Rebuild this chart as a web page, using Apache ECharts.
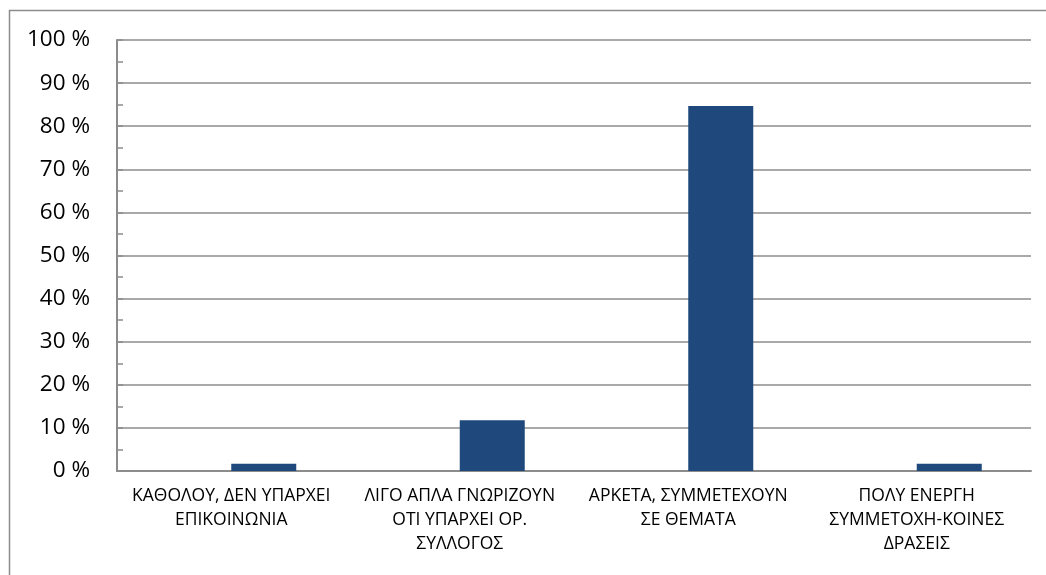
<!DOCTYPE html>
<html>
<head>
<meta charset="utf-8">
<script src="https://cdn.jsdelivr.net/npm/echarts@6/dist/echarts.min.js"></script>
<style>
  html, body { margin: 0; padding: 0; background: #fff; }
  #chart { width: 1046px; height: 575px; }
</style>
</head>
<body>
<div id="chart"></div>
<script>
// Degree of parent association involvement (share of responses, %)
const categories = [
  'ΚΑΘΟΛΟΥ, ΔΕΝ ΥΠΑΡΧΕΙ\nΕΠΙΚΟΙΝΩΝΙΑ',
  'ΛΙΓΟ ΑΠΛΑ ΓΝΩΡΙΖΟΥΝ\nΟΤΙ ΥΠΑΡΧΕΙ ΟΡ.\nΣΥΛΛΟΓΟΣ',
  'ΑΡΚΕΤΑ, ΣΥΜΜΕΤΕΧΟΥΝ\nΣΕ ΘΕΜΑΤΑ',
  'ΠΟΛΥ ΕΝΕΡΓΗ\nΣΥΜΜΕΤΟΧΗ-ΚΟΙΝΕΣ\nΔΡΑΣΕΙΣ'
];
// first series carries no values; it only reserves the left slot of each group
const emptyValues = ['-', '-', '-', '-'];
const percentValues = [1.7, 11.8, 84.7, 1.7];

const chart = echarts.init(document.getElementById('chart'));
const font = '"Open Sans", "Noto Sans", sans-serif';

chart.setOption({
  animation: false,
  backgroundColor: '#ffffff',
  textStyle: { fontFamily: font },
  graphic: [{
    type: 'rect',
    shape: { x: 9.5, y: 10.5, width: 1100, height: 700 },
    style: { fill: 'none', stroke: '#8c8c8c', lineWidth: 1.5 },
    silent: true,
    z: -1
  }],
  grid: { left: 117, right: 15, top: 40, bottom: 104, containLabel: false },
  xAxis: {
    type: 'category',
    data: categories,
    axisLine: { show: true, lineStyle: { color: '#8c8c8c', width: 2 } },
    axisTick: { show: false },
    axisLabel: {
      interval: 0,
      margin: 13,
      color: '#000',
      fontSize: 17.5,
      lineHeight: 24,
      fontFamily: font
    }
  },
  yAxis: {
    type: 'value',
    min: 0,
    max: 100,
    interval: 10,
    axisLine: { show: true, lineStyle: { color: '#8c8c8c', width: 2 } },
    axisTick: { show: true, inside: true, length: 6, lineStyle: { color: '#8c8c8c', width: 1.5 } },
    minorTick: { show: true, splitNumber: 2, length: 6, lineStyle: { color: '#8c8c8c', width: 1.5 } },
    splitLine: { show: true, lineStyle: { color: '#8c8c8c', width: 1.5 } },
    axisLabel: {
      margin: 27,
      color: '#000',
      fontSize: 22.5,
      fontFamily: font,
      formatter: v => v + ' %'
    }
  },
  series: [
    {
      type: 'bar',
      data: emptyValues,
      barWidth: 65,
      barGap: '0%',
      itemStyle: { color: '#1f497d' }
    },
    {
      type: 'bar',
      data: percentValues,
      barWidth: 65,
      barGap: '0%',
      itemStyle: { color: '#1f497d' }
    }
  ]
});
</script>
</body>
</html>
